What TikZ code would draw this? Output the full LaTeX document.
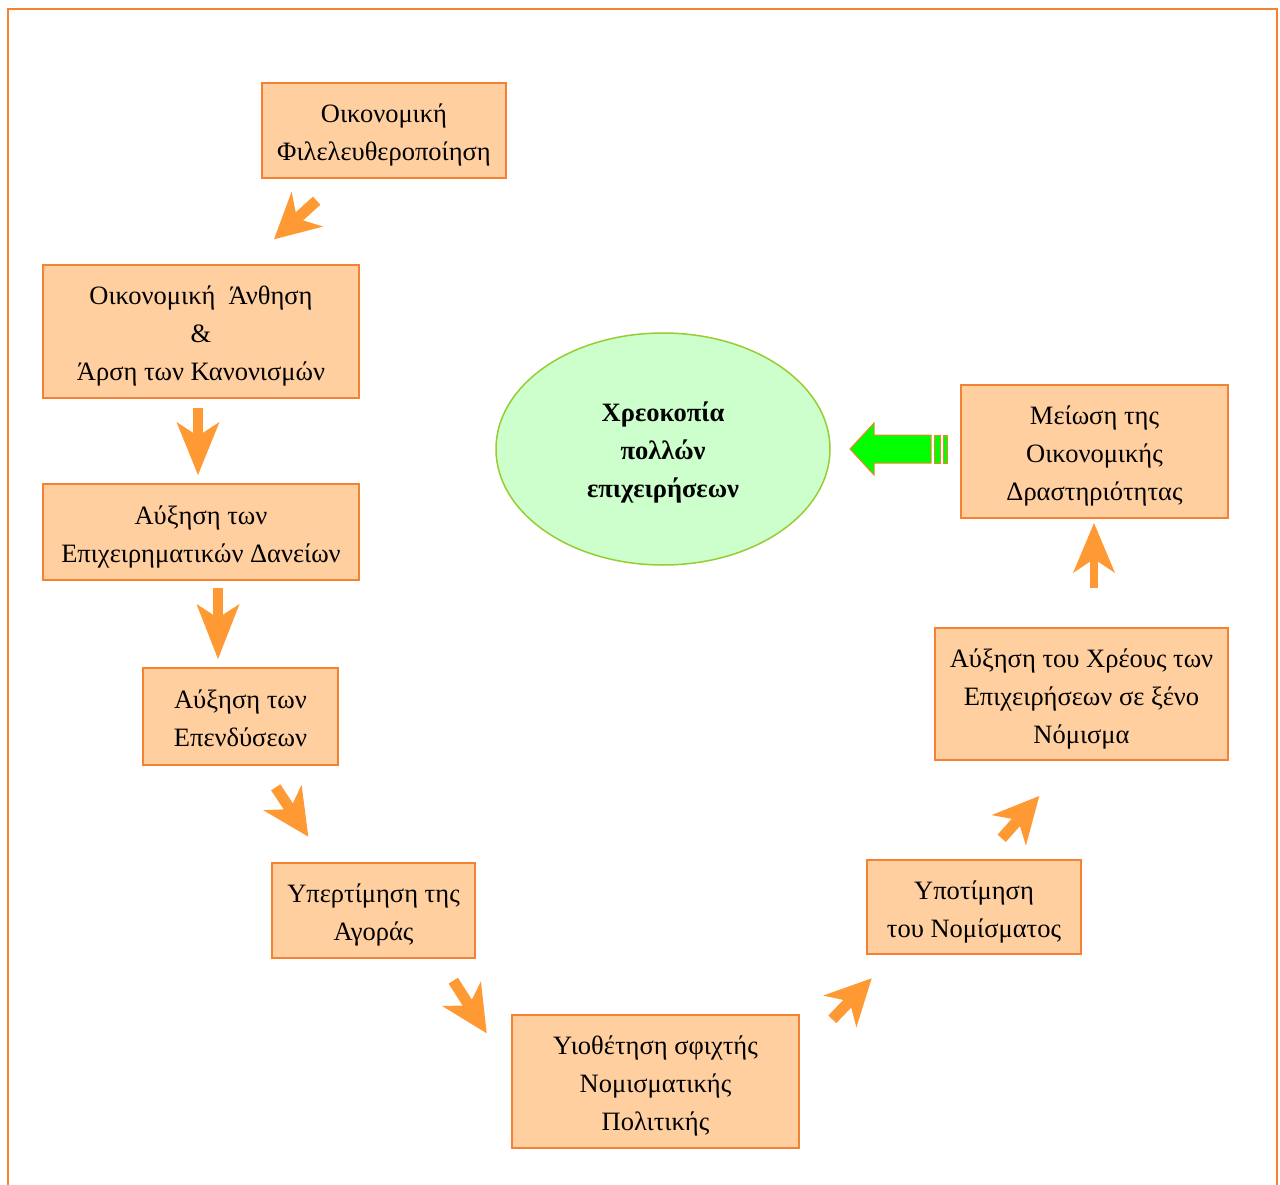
\documentclass[tikz,border=0pt]{standalone}
\usepackage{fontspec}
\setmainfont{Liberation Serif}
\usetikzlibrary{arrows.meta,shapes.geometric}
\definecolor{boxfill}{HTML}{FFCFA0}
\definecolor{boxline}{HTML}{F58232}
\definecolor{arr}{HTML}{FF9933}
\definecolor{ellfill}{HTML}{CCFFCC}
\definecolor{ellline}{HTML}{99CC33}
\definecolor{garrow}{HTML}{00FF00}
\newcommand\mytop{\rule{0pt}{28pt}}
\newcommand\mybot{\rule[-6pt]{0pt}{0pt}}
\tikzset{
  box/.style={draw=boxline, fill=boxfill, line width=1.3pt, inner sep=0pt,
    align=center, font=\fontsize{26.5}{38}\selectfont},
  oarr/.style n args={3}{draw=arr, line width=#3pt,
    -{Stealth[length=#1pt, width=#2pt, inset=14pt, line width=0pt]}},
  garr/.style={fill=garrow, draw=boxline, line width=1pt, line join=miter}
}
\begin{document}
\begin{tikzpicture}[x=1pt,y=-1pt]
\useasboundingbox (0,0) rectangle (1280,1185);
\fill[white] (0,0) rectangle (1280,1185);
% frame
\draw[boxline, line width=2pt] (8,1190) -- (8,9) -- (1277,9) -- (1277,1190);

% boxes
\node[box, minimum width=244pt, minimum height=95pt] (b1) at (384,130.5)
  {\mytop Οικονομική\\Φιλελευθεροποίηση\mybot};
\node[box, minimum width=316pt, minimum height=133pt] (b2) at (201,331.5)
  {\mytop Οικονομική\ \ Άνθηση\\\&\\Άρση των Κανονισμών\mybot};
\node[box, minimum width=316pt, minimum height=96pt] (b3) at (201,532)
  {\mytop Αύξηση των\\Επιχειρηματικών Δανείων\mybot};
\node[box, minimum width=195pt, minimum height=97pt] (b4) at (240.5,716.5)
  {\mytop Αύξηση των\\Επενδύσεων\mybot};
\node[box, minimum width=203pt, minimum height=95pt] (b5) at (373.5,910.5)
  {\mytop Υπερτίμηση της\\Αγοράς\mybot};
\node[box, minimum width=287pt, minimum height=133pt] (b6) at (655.5,1081.5)
  {\mytop Υιοθέτηση σφιχτής\\Νομισματικής\\Πολιτικής\mybot};
\node[box, minimum width=214pt, minimum height=94pt] (b7) at (974,907)
  {\mytop Υποτίμηση\\του Νομίσματος\mybot};
\node[box, minimum width=293pt, minimum height=132pt] (b8) at (1081.5,694)
  {\mytop Αύξηση του Χρέους των\\Επιχειρήσεων σε ξένο\\Νόμισμα\mybot};
\node[box, minimum width=267pt, minimum height=133pt] (b9) at (1094.5,451.5)
  {\mytop Μείωση της\\Οικονομικής\\Δραστηριότητας\mybot};

% central ellipse
\node[ellipse, draw=ellline, fill=ellfill, line width=1.5pt, inner sep=0pt,
  minimum width=334pt, minimum height=232pt, align=center,
  font=\fontsize{26.5}{38}\selectfont\bfseries] (c) at (663,449)
  {\rule{0pt}{26pt}Χρεοκοπία\\πολλών\\επιχειρήσεων\mybot};

% orange arrows (free-standing)
\coordinate (a1s) at (316.7,200.7); \coordinate (a1e) at (274,239.3);
\coordinate (a2s) at (198,408);     \coordinate (a2e) at (198,475);
\coordinate (a3s) at (218,588);     \coordinate (a3e) at (218,659);
\coordinate (a4s) at (275.7,787.3); \coordinate (a4e) at (308.3,836.7);
\coordinate (a5s) at (453.3,980.7); \coordinate (a5e) at (486.7,1033.3);
\coordinate (a6s) at (832.3,1019.3);\coordinate (a6e) at (871.7,978.3);
\coordinate (a7s) at (1001.7,838.3);\coordinate (a7e) at (1039.3,796);
\coordinate (a8s) at (1094,588);    \coordinate (a8e) at (1094,523);
\draw[oarr={45}{47}{11}] (a1s) -- (a1e);
\draw[oarr={53}{43}{10}] (a2s) -- (a2e);
\draw[oarr={55}{43}{10}] (a3s) -- (a3e);
\draw[oarr={47}{46}{11}] (a4s) -- (a4e);
\draw[oarr={47}{46}{11}] (a5s) -- (a5e);
\draw[oarr={46}{46}{11}] (a6s) -- (a6e);
\draw[oarr={46}{46}{11}] (a7s) -- (a7e);
\draw[oarr={50}{42}{8}]  (a8s) -- (a8e);

% green striped arrow pointing to the ellipse
\draw[garr] (850,449) -- (874,423) -- (874,435) -- (931,435) -- (931,463)
  -- (874,463) -- (874,475) -- cycle;
\draw[garr] (934,435) rectangle (940,463);
\draw[garr] (943,435) rectangle (947,463);
\end{tikzpicture}
\end{document}
